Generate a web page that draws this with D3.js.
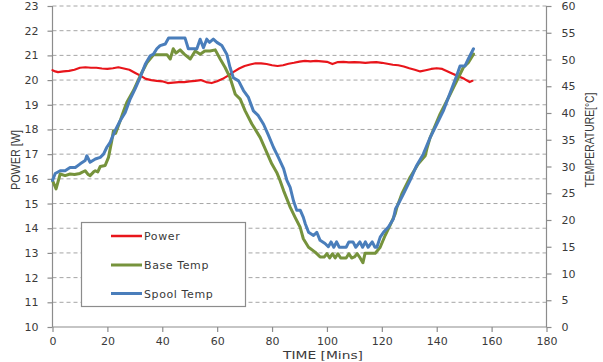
<!DOCTYPE html>
<html>
<head>
<meta charset="utf-8">
<script src="https://cdn.jsdelivr.net/npm/d3@7"></script>
<style>
  html, body { margin: 0; padding: 0; background: #fff; }
  svg { display: block; }
  text { font-family: "DejaVu Sans", Verdana, sans-serif; fill: #3a3a3a; }
</style>
</head>
<body>
<svg id="chart" width="603" height="362"></svg>
<script>
// ---- Data ----
const powerTime = [0,1,2,4,6,8,10,12,14,16,18,20,22,24,26,28,30,32,34,36,38,40,42,44,46,48,50,52,54,56,58,60,62,64,66,68,70,72,74,76,78,80,82,84,86,88,90,92,94,96,98,100,102,104,106,108,110,112,114,116,118,120,122,124,126,128,130,132,134,136,138,140,142,144,146,148,150,152,153];
const powerValues = [20.4,20.35,20.32,20.35,20.37,20.42,20.5,20.52,20.5,20.5,20.47,20.45,20.48,20.52,20.47,20.42,20.3,20.18,20.05,20.0,19.97,19.95,19.88,19.9,19.92,19.92,19.95,19.97,20.0,19.92,19.88,19.95,20.05,20.18,20.33,20.47,20.57,20.63,20.68,20.68,20.65,20.6,20.57,20.6,20.66,20.7,20.75,20.78,20.76,20.78,20.76,20.74,20.65,20.73,20.74,20.72,20.73,20.72,20.7,20.72,20.73,20.7,20.66,20.62,20.6,20.55,20.48,20.42,20.35,20.4,20.45,20.48,20.45,20.35,20.25,20.15,20.05,19.92,19.97];

const baseTime = [0,1.3,2.8,4.6,6.4,8,10,11.9,13,13.7,15,15.6,16.5,17.4,19.2,20.4,21.6,22.2,23,24.7,26,27.1,29.5,32,34.4,36.8,39,41.7,42.9,44,45,46.5,48,50.2,52,53.8,55.5,57.4,59.3,61.1,62.9,64.7,66.6,68.4,70.2,72.6,75.7,77.5,79.9,81.7,82.9,84.2,86.6,88.4,90.2,91.4,93.3,95.7,97.5,99,100,101,102,103,104,105,107,108,109,110,111,112.1,113.1,113.9,117.6,119.4,121.2,123,124.9,125.5,127.3,130.3,133.3,135.8,136.4,137.6,141.2,144.9,147.9,149.7,151.5,153.4];
const baseValues = [27.4,25.8,28.6,28.3,28.6,28.5,28.7,29.2,28.5,28.3,29.0,29.2,29.0,30.0,30.2,31.7,34.8,36.7,36.2,38.6,40.5,42,44.2,47,49.4,50.9,50.9,50.9,50.1,52,51.2,51.8,51,50.1,51.6,51,51.6,51.6,51.8,50.1,48.5,46.6,43.5,42.6,40.4,38,35.4,33.3,30.5,28.9,27.4,25.5,22.4,20.5,18.7,16.5,14.9,14,13.1,13.1,13.7,12.9,13.7,12.9,13.7,12.9,12.9,13.7,12.9,13.1,13.7,12.9,12.0,13.8,13.8,14.9,17.1,19,21.2,22.4,24.9,28,30.5,32,33.3,35.4,39.8,43.5,46.6,48.5,49.4,51];

const spoolTime = [0,1,2.8,4.6,6.4,8.3,10.1,11.9,12.5,13.7,15.6,17.4,18.6,19.8,21,22.8,24.7,26.5,28.3,30.1,31.9,33.8,35.6,36.8,38,39.2,41.1,42.3,44.1,48.3,49.5,52.6,53.8,55,56.2,57.2,58.6,59.9,61.7,63.5,64.7,65.9,67.8,69.6,71.4,73.2,75,76.9,78.7,80.5,82.3,84.2,85.4,86.6,87.8,89,90.3,91.4,92.1,93.3,95.1,96.3,97.5,99.3,100.5,101.5,102.5,103.5,104.5,107,108,109.5,110.5,112,113,114,115,116.5,117.5,118.2,119.4,120.6,122.4,124.2,125,126,127.9,130.3,132.7,135.1,137.6,140,142.4,144.9,147.3,148.5,150.3,151.5,153.4];
const spoolValues = [27.4,28.7,29.2,29.2,29.8,29.8,30.5,31.1,32,30.8,31.4,31.7,32.3,33.6,34.5,36.7,38.6,40.1,42.6,44.5,46.6,49.1,50.7,51,52,52.6,52.9,54,54,54,52,52,53.8,52.2,53.8,53.2,53.8,53.2,52.6,51,48.5,46.6,46,44.2,42.9,40.4,39.5,37.9,35.8,33.6,31.7,29.6,27.4,26.1,23.6,21.8,21.8,20.5,19.3,17.7,17.1,17.7,16.2,15.6,15.0,15.9,14.9,15.9,14.9,14.9,15.9,15.9,14.9,15.9,14.9,15.9,14.9,15.9,14.9,14.9,16.8,17.7,18.7,20.2,22.1,23,24.9,27.4,30.2,32.3,35.4,37.9,40.4,43.8,47,48.8,48.8,50.1,52];

const xTicks = [0,20,40,60,80,100,120,140,160,180];
const leftTicks = [10,11,12,13,14,15,16,17,18,19,20,21,22,23];
const rightTicks = [0,5,10,15,20,25,30,35,40,45,50,55,60];
const seriesNames = ["Power","Base Temp","Spool Temp"];
const seriesColors = ["#e8151b","#76933c","#4a7ebb"];

// ---- Layout ----
const svg = d3.select("#chart");
const L = 52.5, R = 546.5, T = 6, B = 327;

const x = d3.scaleLinear().domain([0,180]).range([L,R]);
const yL = d3.scaleLinear().domain([10,23]).range([B,T]);
const yR = d3.scaleLinear().domain([0,60]).range([B,T]);

// gridlines
svg.append("g").selectAll("line").data(leftTicks.filter(d => d > 10)).join("line")
  .attr("x1", L).attr("x2", R)
  .attr("y1", d => yL(d)).attr("y2", d => yL(d))
  .attr("stroke", "#a6a6a6").attr("stroke-width", 1)
  .attr("stroke-dasharray", "4,3");

// axes
const axisColor = "#8c8c8c";
const gx = svg.append("g").attr("transform", `translate(0,${B})`)
  .call(d3.axisBottom(x).tickValues(xTicks).tickSize(5).tickPadding(5).tickFormat(d3.format("d")));
const gl = svg.append("g").attr("transform", `translate(${L},0)`)
  .call(d3.axisLeft(yL).tickValues(leftTicks).tickSize(5).tickPadding(9).tickFormat(d3.format("d")));
const gr = svg.append("g").attr("transform", `translate(${R},0)`)
  .call(d3.axisRight(yR).tickValues(rightTicks).tickSize(5).tickPadding(10).tickFormat(d3.format("d")));
[gx, gl, gr].forEach(g => {
  g.select(".domain").attr("stroke", axisColor).attr("stroke-width", 1.2);
  g.selectAll(".tick line").attr("stroke", axisColor).attr("stroke-width", 1.2);
  g.selectAll(".tick text").style("font-family", '"DejaVu Sans", Verdana, sans-serif')
    .style("font-size", "11px").attr("fill", "#3a3a3a");
});
gx.select(".domain").attr("d", `M${L},0H${R}`);
gl.select(".domain").attr("d", `M0,${B}V${T}`);
gr.select(".domain").attr("d", `M0,${B}V${T}`);

// lines
const mk = (times, vals, ys) => d3.line().x((d,i) => x(times[i])).y((d) => ys(d))(vals);
const series = [
  {t: powerTime, v: powerValues, s: yL, w: 2.2},
  {t: baseTime, v: baseValues, s: yR, w: 3},
  {t: spoolTime, v: spoolValues, s: yR, w: 3}
];
series.forEach((sr, i) => {
  svg.append("path").attr("d", mk(sr.t, sr.v, sr.s))
    .attr("fill", "none").attr("stroke", seriesColors[i])
    .attr("stroke-width", sr.w).attr("stroke-linejoin", "round").attr("stroke-linecap", "round");
});

// axis titles
svg.append("text").attr("x", 323).attr("y", 358.5).attr("text-anchor", "middle")
  .style("font-size", "11px").attr("textLength", 80).attr("lengthAdjust", "spacingAndGlyphs")
  .text("TIME [Mins]");
svg.append("text").attr("transform", "translate(20,160) rotate(-90)").attr("text-anchor", "middle")
  .style("font-family", '"Liberation Sans", Arial, sans-serif').style("font-size", "12px")
  .attr("textLength", 60).attr("lengthAdjust", "spacingAndGlyphs")
  .text("POWER [W]");
svg.append("text").attr("transform", "translate(594,140) rotate(-90)").attr("text-anchor", "middle")
  .style("font-family", '"Liberation Sans", Arial, sans-serif').style("font-size", "12px")
  .attr("textLength", 95).attr("lengthAdjust", "spacingAndGlyphs")
  .text("TEMPERATURE[°C]");

// legend
const lg = svg.append("g");
lg.append("rect").attr("x", 81.5).attr("y", 222.5).attr("width", 164).attr("height", 84)
  .attr("fill", "#fff").attr("stroke", "#8c8c8c").attr("stroke-width", 1.2);
const rows = [236, 265, 293.5];
seriesNames.forEach((n, i) => {
  lg.append("line").attr("x1", 111).attr("x2", 142).attr("y1", rows[i]).attr("y2", rows[i])
    .attr("stroke", seriesColors[i]).attr("stroke-width", i === 0 ? 2.5 : 3);
  lg.append("text").attr("x", 144).attr("y", rows[i] + 4).style("font-size", "11px")
    .style("letter-spacing", "0.6px").text(n);
});
</script>
</body>
</html>
